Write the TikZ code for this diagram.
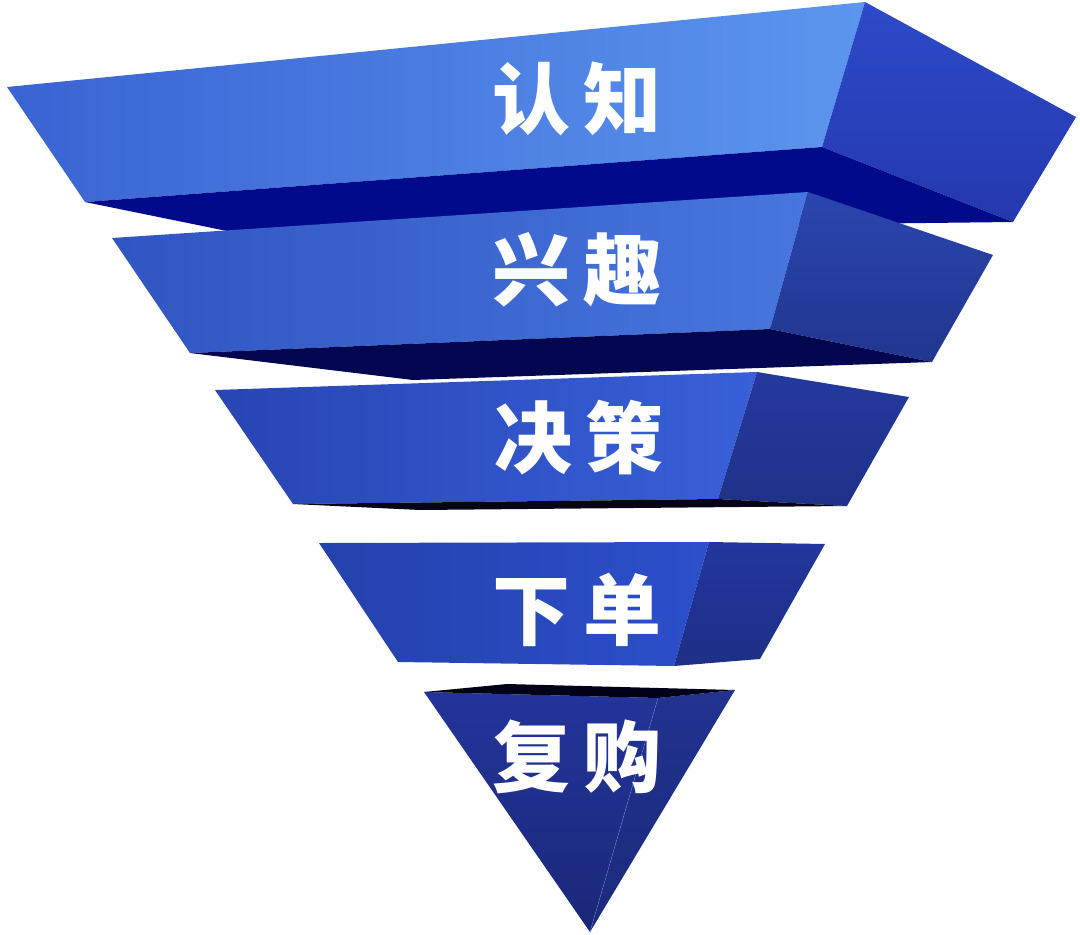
\documentclass[tikz,border=0pt]{standalone}
\usepackage{fontspec}
\newfontfamily\cjk{Noto Sans CJK SC}
\definecolor{aFl}{HTML}{3A63D3}\definecolor{aFr}{HTML}{5B96EE}
\definecolor{aRt}{HTML}{2D4AC8}\definecolor{aRb}{HTML}{2438AE}
\definecolor{aB}{HTML}{020A8C}
\definecolor{bFl}{HTML}{3155C2}\definecolor{bFr}{HTML}{4676DE}
\definecolor{bRt}{HTML}{2A45AE}\definecolor{bRb}{HTML}{21368F}
\definecolor{bB}{HTML}{03074F}
\definecolor{cFl}{HTML}{2845B4}\definecolor{cFr}{HTML}{3860D8}
\definecolor{cRt}{HTML}{25399E}\definecolor{cRb}{HTML}{1F3188}
\definecolor{cB}{HTML}{050515}
\definecolor{dFl}{HTML}{2442AC}\definecolor{dFr}{HTML}{2C4FCB}
\definecolor{dRt}{HTML}{22369E}\definecolor{dRb}{HTML}{1E2F86}
\definecolor{eFt}{HTML}{22349A}\definecolor{eFb}{HTML}{1A2878}
\definecolor{eRt}{HTML}{213290}\definecolor{eRb}{HTML}{1B2A7A}
\definecolor{eT}{HTML}{000018}
\definecolor{edgehi}{HTML}{6F8EE0}
\begin{document}
\begin{tikzpicture}[x=1pt,y=-1pt,
  lab/.style={text=white, font=\cjk\bfseries\fontsize{78}{80}\selectfont, inner sep=0pt, anchor=center}]
\useasboundingbox (0,0) rectangle (1080,935);

% tier 1
\shade[left color=aFl, right color=aFr] (7,87) -- (865,2) -- (822,147) -- (85,202) -- cycle;
\shade[top color=aRt, bottom color=aRb] (865,2) -- (1076,117) -- (1013,222) -- (822,147) -- cycle;
\fill[aB] (85,202) -- (822,147) -- (1013,222) -- (227,231) -- cycle;

% tier 2
\shade[left color=bFl, right color=bFr] (112,238) -- (808,192) -- (770,329) -- (190,353) -- cycle;
\shade[top color=bRt, bottom color=bRb] (808,192) -- (993,255) -- (932,362) -- (770,329) -- cycle;
\fill[bB] (190,353) -- (770,329) -- (932,362) -- (413,380) -- cycle;

% tier 3
\shade[left color=cFl, right color=cFr] (215,390) -- (757,372) -- (718,499) -- (293,504) -- cycle;
\shade[top color=cRt, bottom color=cRb] (757,372) -- (909,397) -- (847,506) -- (718,499) -- cycle;
\fill[cB] (293,504) -- (718,499) -- (847,506) -- (420,510) -- cycle;

% tier 4
\shade[left color=dFl, right color=dFr] (319,543) -- (709,542) -- (674,666) -- (398,662) -- cycle;
\shade[top color=dRt, bottom color=dRb] (709,542) -- (825,544) -- (760,659) -- (674,666) -- cycle;

% tier 5
\shade[top color=eFt, bottom color=eFb] (424,692) -- (658,698) -- (590,932) -- cycle;
\shade[top color=eRt, bottom color=eRb] (658,698) -- (735,690) -- (590,932) -- cycle;
\fill[eT] (424,692) -- (507,684) -- (735,690) -- (658,698) -- cycle;
\draw[edgehi, line width=0.5pt, opacity=0.6] (658,698) -- (590,932);

% labels
\node[lab] (l1) at (577,99) {认\hspace{14pt}知};
\node[lab] (l2) at (577,270) {兴\hspace{14pt}趣};
\node[lab] (l3) at (579,438) {决\hspace{14pt}策};
\node[lab] (l4) at (577,610) {下\hspace{14pt}单};
\node[lab] (l5) at (577,757) {复\hspace{14pt}购};
\end{tikzpicture}
\end{document}
